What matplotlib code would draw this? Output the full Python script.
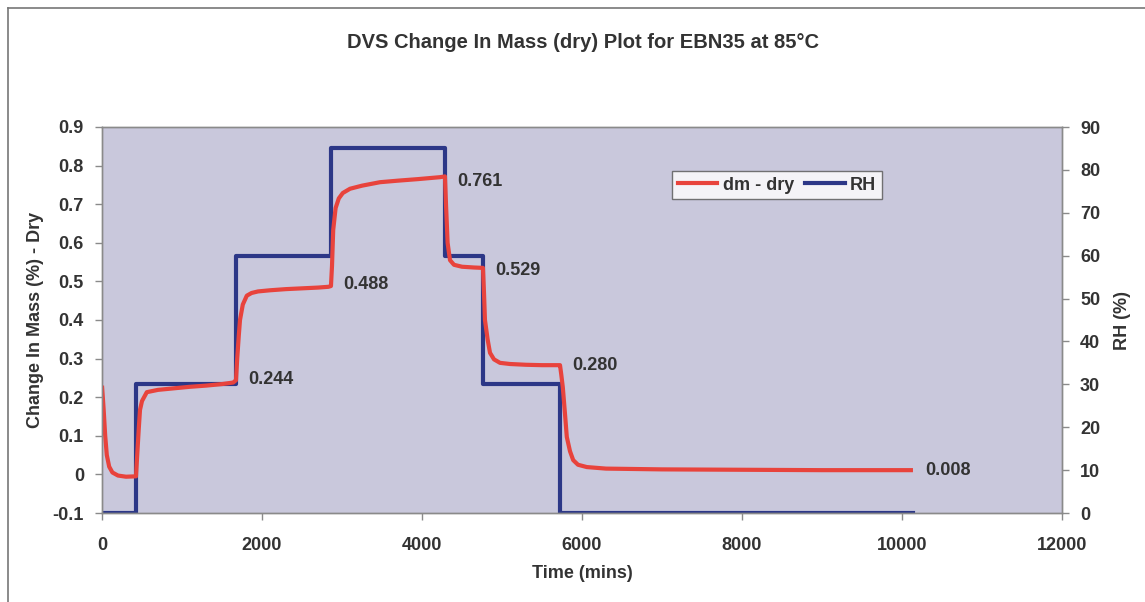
import matplotlib
matplotlib.use("agg")
import matplotlib.pyplot as plt
from matplotlib.lines import Line2D

# change in mass (dry)
dm_time = [0, 20, 40, 60, 90, 130, 200, 300, 425,
           440, 460, 475, 500, 560, 700, 900, 1100, 1300, 1500, 1640, 1675,
           1690, 1710, 1725, 1760, 1810, 1870, 1950, 2100, 2300, 2500, 2700, 2830, 2862,
           2875, 2890, 2920, 2960, 3010, 3100, 3250, 3475, 3700, 3950, 4225, 4287,
           4300, 4320, 4350, 4400, 4500, 4650, 4762,
           4775, 4787, 4820, 4850, 4900, 4975, 5100, 5300, 5500, 5700, 5725,
           5740, 5760, 5790, 5810, 5850, 5890, 5950, 6060, 6300, 7000, 8000, 9000, 10137]
dm_value = [0.23, 0.17, 0.10, 0.05, 0.02, 0.005, -0.003, -0.006, -0.005,
            0.05, 0.12, 0.167, 0.19, 0.213, 0.219, 0.223, 0.227, 0.230, 0.234, 0.238, 0.244,
            0.30, 0.36, 0.40, 0.44, 0.463, 0.470, 0.474, 0.477, 0.480, 0.482, 0.484, 0.486, 0.488,
            0.54, 0.633, 0.69, 0.715, 0.729, 0.740, 0.748, 0.757, 0.761, 0.765, 0.770, 0.772,
            0.70, 0.60, 0.555, 0.543, 0.538, 0.536, 0.535,
            0.47, 0.40, 0.35, 0.315, 0.298, 0.289, 0.286, 0.284, 0.283, 0.283, 0.283,
            0.26, 0.226, 0.15, 0.097, 0.06, 0.037, 0.025, 0.019, 0.015, 0.013, 0.012, 0.011, 0.011]

# RH steps
rh_time = [0, 425, 425, 1675, 1675, 2862, 2862, 4287, 4287, 4762, 4762, 5725, 5725, 10137]
rh_value = [0, 0, 30, 30, 60, 60, 85, 85, 60, 60, 30, 30, 0, 0]

# end of step values
label_time = [1675, 2862, 4287, 4762, 5725, 10137]
label_value = [0.244, 0.488, 0.761, 0.529, 0.280, 0.008]
label_y = [0.245, 0.491, 0.760, 0.529, 0.281, 0.011]

plt.rcParams['font.family'] = ['Liberation Sans', 'DejaVu Sans']
plt.rcParams['font.weight'] = 'bold'
txt = '#333333'
red = '#e8433c'
blue = '#2c3787'

fig = plt.figure(figsize=(11.45, 6.02), dpi=100)
ax = fig.add_axes([102/1145, 1 - 513/602, 960/1145, 386/602])
ax2 = ax.twinx()
ax.set_zorder(ax2.get_zorder() + 1)
ax.patch.set_visible(False)
ax2.patch.set_visible(True)
ax2.patch.set_facecolor('#c9c8dc')

ax.plot(dm_time, dm_value, color=red, lw=3, solid_capstyle='butt')
ax2.plot(rh_time, rh_value, color=blue, lw=3)
ax2.set_zorder(0)

for t, v, y in zip(label_time, label_value, label_y):
    ax.annotate('%.3f' % v, xy=(t, y), xytext=(9, 0), textcoords='offset points',
                ha='left', va='center', fontsize=13, fontweight='bold', color=txt)

ax.set_xlim(0, 12000)
ax.set_ylim(-0.1, 0.9)
ax2.set_ylim(0, 90)
ax.set_xticks(range(0, 12001, 2000))
ax.set_yticks([-0.1, 0, 0.1, 0.2, 0.3, 0.4, 0.5, 0.6, 0.7, 0.8, 0.9])
ax.set_yticklabels(['-0.1', '0', '0.1', '0.2', '0.3', '0.4', '0.5', '0.6', '0.7', '0.8', '0.9'])
ax2.set_yticks(range(0, 91, 10))

for a in (ax, ax2):
    for s in a.spines.values():
        s.set_color('#8a8a8a')
        s.set_linewidth(1)
    a.tick_params(direction='out', length=5, color='#8a8a8a', labelsize=13,
                  labelcolor=txt, width=1)
ax.tick_params(axis='x', pad=12)
ax.tick_params(axis='y', pad=8)
ax2.tick_params(axis='y', pad=8)

ax.set_xlabel('Time (mins)', fontsize=13, fontweight='bold', color=txt, labelpad=8)
ax.set_ylabel('Change In Mass (%) - Dry', fontsize=13, fontweight='bold', color=txt, labelpad=6)
ax2.set_ylabel('RH (%)', fontsize=13, fontweight='bold', color=txt, labelpad=10)

fig.text(0.509, 1 - 42/602, 'DVS Change In Mass (dry) Plot for EBN35 at 85\u00b0C',
         ha='center', va='center', fontsize=14.5, fontweight='bold', color=txt)

handles = [Line2D([], [], color=red, lw=3), Line2D([], [], color=blue, lw=3)]
leg = ax.legend(handles, ['dm - dry', 'RH'], loc='upper left', bbox_to_anchor=(0.594, 0.885),
                ncol=2, frameon=True, fancybox=False, fontsize=13, handlelength=2.2,
                handletextpad=0.3, columnspacing=0.6, borderpad=0.3, borderaxespad=0)
leg.get_frame().set_edgecolor('#555555')
leg.get_frame().set_linewidth(1)
for t in leg.get_texts():
    t.set_color(txt)

# outer chart border
fig.add_artist(Line2D([8/1145, 8/1145], [0, 1 - 8/602], color='#777777', lw=1.2))
fig.add_artist(Line2D([8/1145, 1], [1 - 8/602, 1 - 8/602], color='#777777', lw=1.2))

plt.savefig('out.png', dpi=100)
plt.close()
